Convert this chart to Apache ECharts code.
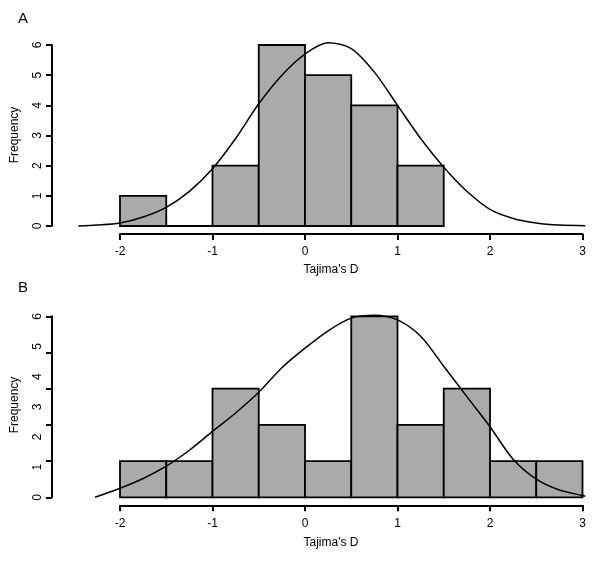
<!DOCTYPE html>
<html>
<head>
<meta charset="utf-8">
<script src="https://cdn.jsdelivr.net/npm/echarts@6/dist/echarts.min.js"></script>
<style>
  html, body { margin: 0; padding: 0; background: #fff; }
  #chart { width: 600px; height: 561px; }
</style>
</head>
<body>
<div id="chart"></div>
<script>
// histogram bins (left edges) and counts, bin width 0.5
const binWidth = 0.5;
const binStartsA = [-2, -1.5, -1, -0.5, 0, 0.5, 1];
const countsA = [1, 0, 2, 6, 5, 4, 2];
const binStartsB = [-2, -1.5, -1, -0.5, 0, 0.5, 1, 1.5, 2, 2.5];
const countsB = [1, 1, 3, 2, 1, 5, 2, 3, 1, 1];

// fitted curves
const curveXA = [-2.45, -2.25, -2, -1.75, -1.5, -1.25, -1, -0.75, -0.5, -0.25, 0, 0.25, 0.5, 0.75, 1, 1.25, 1.5, 1.75, 2, 2.25, 2.5, 2.75, 3.03];
const curveYA = [0, 0.03, 0.1, 0.3, 0.62, 1.15, 1.9, 2.9, 4.05, 5.0, 5.7, 6.07, 5.88, 5.1, 4.0, 2.9, 1.95, 1.15, 0.55, 0.25, 0.1, 0.03, 0.01];
const curveXB = [-2.27, -2, -1.75, -1.5, -1.25, -1, -0.75, -0.5, -0.25, 0, 0.25, 0.5, 0.75, 1, 1.25, 1.5, 1.75, 2, 2.25, 2.5, 2.75, 3, 3.03];
const curveYB = [0, 0.25, 0.52, 0.86, 1.3, 1.82, 2.33, 2.9, 3.58, 4.12, 4.6, 4.95, 5.03, 4.9, 4.45, 3.62, 2.78, 1.95, 1.05, 0.5, 0.2, 0.05, 0.03];

// axis ticks
const xTicks = [-2, -1, 0, 1, 2, 3];
const yMaxA = 6;
const yTickMaxB = 5;   // tick marks of panel B
const yLabelMaxB = 6;  // printed labels of panel B

const FONT = 'Liberation Sans, Arial, sans-serif';

// pixel frame of the ticked range; the data grids are widened from it
const X0 = 120, UX = 92.5;         // x=-2 at 120px, 92.5px per unit
const A_BASE = 226, A_UY = 30.17;  // panel A: y=0 at 226px
const B_BASE = 497.3, B_UY = 36.2; // panel B: count 0 at 497.3px
const DX_MIN = -2.6, DX_MAX = 3.15, DY_MIN = -0.2, DY_MAX_A = 6.5, DY_MAX_B = 5.5;

const chart = echarts.init(document.getElementById('chart'), null, { renderer: 'canvas' });

const binData = (starts, counts) => starts.map((s, i) => [s, s + binWidth, counts[i]]);
const curveData = (xs, ys) => xs.map((x, i) => [x, ys[i]]);
// whole span of the bins, for the baseline under them (covers empty bins too)
const binSpan = (starts) => [[starts[0], starts[starts.length - 1] + binWidth]];

const renderBin = (params, api) => {
  const p0 = api.coord([api.value(0), 0]);
  const p1 = api.coord([api.value(1), api.value(2)]);
  return {
    type: 'rect',
    shape: { x: p0[0], y: p1[1], width: p1[0] - p0[0], height: p0[1] - p1[1] },
    style: { fill: '#aaaaaa', stroke: '#000', lineWidth: 1.8 },
  };
};

const renderBaseline = (params, api) => {
  const a = api.coord([api.value(0), 0]);
  const b = api.coord([api.value(1), 0]);
  return {
    type: 'line',
    shape: { x1: a[0], y1: a[1], x2: b[0], y2: b[1] },
    style: { stroke: '#000', lineWidth: 1.8 },
  };
};

// data grids reach a little below 0 so nothing on the baseline gets clipped
const dataGrid = (base, uy, ymax) => ({
  left: X0 + (DX_MIN - xTicks[0]) * UX,
  width: (DX_MAX - DX_MIN) * UX,
  top: base - ymax * uy,
  height: (ymax - DY_MIN) * uy,
});

const hiddenAxis = (gridIndex, min, max) => ({
  type: 'value', gridIndex, min, max, show: false,
});

const xAxisShown = (gridIndex) => ({
  type: 'value',
  gridIndex,
  min: xTicks[0],
  max: xTicks[xTicks.length - 1],
  interval: 1,
  offset: 8,
  axisLine: { show: true, onZero: false, lineStyle: { color: '#000', width: 2 } },
  axisTick: { show: true, length: 6, lineStyle: { color: '#000', width: 2 } },
  axisLabel: { color: '#000', fontSize: 12, fontFamily: FONT, margin: 12 },
  splitLine: { show: false },
});

const yLabelStyle = { color: '#000', fontSize: 12, fontFamily: FONT, rotate: 90, margin: 8 };
const yLine = { show: true, onZero: false, lineStyle: { color: '#000', width: 2 } };
const yTick = { show: true, length: 6, lineStyle: { color: '#000', width: 2 } };

const option = {
  animation: false,
  backgroundColor: '#fff',
  grid: [
    dataGrid(A_BASE, A_UY, DY_MAX_A),
    { left: X0, width: 5 * UX, top: A_BASE - yMaxA * A_UY, height: yMaxA * A_UY },
    dataGrid(B_BASE, B_UY, DY_MAX_B),
    { left: X0, width: 5 * UX, top: B_BASE - yTickMaxB * B_UY, height: yTickMaxB * B_UY },
  ],
  xAxis: [
    hiddenAxis(0, DX_MIN, DX_MAX),
    xAxisShown(1),
    hiddenAxis(2, DX_MIN, DX_MAX),
    xAxisShown(3),
  ],
  yAxis: [
    hiddenAxis(0, DY_MIN, DY_MAX_A),
    {
      type: 'value', gridIndex: 1, min: 0, max: yMaxA, interval: 1, offset: 68,
      axisLine: yLine, axisTick: yTick, axisLabel: yLabelStyle, splitLine: { show: false },
    },
    hiddenAxis(2, DY_MIN, DY_MAX_B),
    {
      type: 'value', gridIndex: 3, min: 0, max: yTickMaxB, interval: 1, offset: 68,
      axisLine: yLine, axisTick: yTick, axisLabel: { show: false }, splitLine: { show: false },
    },
    {
      // labels only: they do not sit on the tick marks in the original
      type: 'value', gridIndex: 3, position: 'left', min: 0, max: yLabelMaxB, interval: 1, offset: 68,
      axisLine: { show: false, onZero: false }, axisTick: { show: false },
      axisLabel: yLabelStyle, splitLine: { show: false },
    },
  ],
  series: [
    {
      type: 'custom', xAxisIndex: 0, yAxisIndex: 0, clip: false,
      encode: { x: [0, 1] },
      renderItem: renderBaseline, data: binSpan(binStartsA),
    },
    {
      type: 'custom', xAxisIndex: 0, yAxisIndex: 0, clip: false,
      encode: { x: [0, 1], y: 2 },
      renderItem: renderBin, data: binData(binStartsA, countsA),
    },
    {
      type: 'line', xAxisIndex: 0, yAxisIndex: 0,
      data: curveData(curveXA, curveYA), smooth: 0.3, symbol: 'none',
      lineStyle: { color: '#000', width: 1.5 },
    },
    {
      type: 'custom', xAxisIndex: 2, yAxisIndex: 2, clip: false,
      encode: { x: [0, 1], y: 2 },
      renderItem: renderBin, data: binData(binStartsB, countsB),
    },
    {
      type: 'line', xAxisIndex: 2, yAxisIndex: 2,
      data: curveData(curveXB, curveYB), smooth: 0.3, symbol: 'none',
      lineStyle: { color: '#000', width: 1.5 },
    },
  ],
  graphic: [
    { type: 'text', left: 18, top: 11, style: { text: 'A', fontSize: 15, fontFamily: FONT, fill: '#000' } },
    { type: 'text', left: 18, top: 280, style: { text: 'B', fontSize: 15, fontFamily: FONT, fill: '#000' } },
    { type: 'text', x: 331, y: 270, style: { text: "Tajima's D", fontSize: 12, fontFamily: FONT, fill: '#000', align: 'center', verticalAlign: 'middle' } },
    { type: 'text', x: 331, y: 543, style: { text: "Tajima's D", fontSize: 12, fontFamily: FONT, fill: '#000', align: 'center', verticalAlign: 'middle' } },
    { type: 'text', x: 15, y: 135, rotation: Math.PI / 2, style: { text: 'Frequency', fontSize: 12, fontFamily: FONT, fill: '#000', align: 'center', verticalAlign: 'middle' } },
    { type: 'text', x: 15, y: 405, rotation: Math.PI / 2, style: { text: 'Frequency', fontSize: 12, fontFamily: FONT, fill: '#000', align: 'center', verticalAlign: 'middle' } },
  ],
};

chart.setOption(option);
</script>
</body>
</html>
